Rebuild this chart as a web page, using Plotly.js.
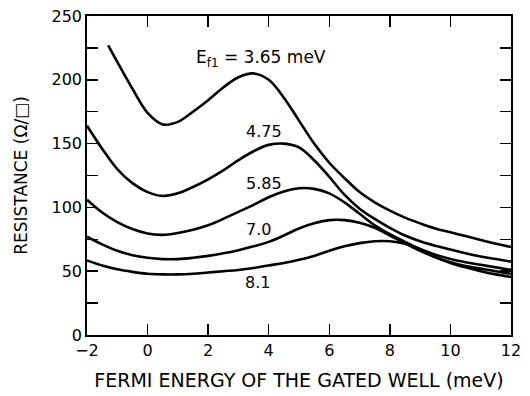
<!DOCTYPE html>
<html>
<head>
<meta charset="utf-8">
<script src="https://cdn.plot.ly/plotly-3.0.1.min.js"></script>
<style>html,body{margin:0;padding:0;background:#fff;}#chart{width:530px;height:396px;}</style>
</head>
<body>
<div id="chart"></div>
<script>
// Fermi energy of the gated well (meV)
const xGrid = [-2, -1.5, -1, -0.5, 0, 0.5, 1, 1.5, 2, 2.5, 3, 3.5, 4, 4.5, 5, 5.5, 6, 6.5, 7, 7.5, 8, 8.5, 9, 9.5, 10, 10.5, 11, 11.5, 12];

// E_f1 = 3.65 meV curve starts at x = -1.3
const x365 = [-1.3, -1, -0.5, 0, 0.5, 1, 1.5, 2, 2.5, 3, 3.5, 4, 4.5, 5, 5.5, 6, 6.5, 7, 7.5, 8, 8.5, 9, 9.5, 10, 10.5, 11, 11.5, 12];
const y365 = [227, 214, 193, 174, 165, 167, 175, 184, 194, 202, 205, 200, 186, 168, 150, 135, 123, 112, 104, 97.5, 92, 87.5, 83.5, 80.5, 77.5, 74.5, 71.5, 69];

// Resistance (ohm/square) for the other curves, on xGrid
const y475 = [164, 146, 130, 119, 112, 109, 111, 116, 122, 129, 137, 144, 149, 150, 147, 137, 124, 110, 99, 91, 84, 78, 73.5, 70, 67, 64, 61.5, 59.5, 57.5];
const y585 = [106, 96, 88.5, 83, 79.5, 78.5, 80, 82.5, 86, 91, 96.5, 102, 108, 112.5, 115, 114.5, 111, 104, 95, 86, 79, 73, 67.5, 63, 59.5, 57, 55, 53, 51];
const y70  = [77, 71, 66, 62.5, 60.5, 59.5, 59.5, 60.5, 62, 64, 66.5, 69.5, 73, 78, 83.5, 87.5, 90, 90, 88, 84, 78, 72, 66, 61, 57, 54, 52, 50, 48];
const y81  = [58.5, 54.5, 51.5, 49.5, 48, 47.5, 47.5, 48, 49, 50, 51, 52.5, 54.5, 56.5, 59, 62, 66, 69.5, 72, 73.5, 73.5, 71.5, 67, 61, 56.5, 53, 50, 47.5, 45.5];

const curveLabels = ['E<sub>f1</sub> = 3.65 meV', '4.75', '5.85', '7.0', '8.1'];
const labelX = [3.74, 3.84, 3.84, 3.66, 3.63];
const labelY = [217, 159.5, 118.7, 82.3, 41];

const xTickVals = [-2, 0, 2, 4, 6, 8, 10, 12];
const xTickText = ['\u22122', '0', '2', '4', '6', '8', '10', '12'];
const yTickVals = [0, 50, 100, 150, 200, 250];
const yTickText = ['0', '50', '100', '150', '200', '250'];

const lineStyle = {color: '#000', width: 2.6, shape: 'spline', smoothing: 1};
const series = [[x365, y365], [xGrid, y475], [xGrid, y585], [xGrid, y70], [xGrid, y81]];
const traces = series.map(s => ({x: s[0], y: s[1], mode: 'lines', line: lineStyle, hoverinfo: 'skip'}));

const fam = 'DejaVu Sans, Liberation Sans, Arial, sans-serif';
const font = {family: fam, size: 16, color: '#000'};

const annotations = curveLabels.map((t, i) => ({
  x: labelX[i], y: labelY[i], xref: 'x', yref: 'y', text: t, showarrow: false,
  xanchor: 'center', yanchor: 'middle', font: {family: fam, size: i === 0 ? 17 : 16, color: '#000'}
}));

const layout = {
  width: 530, height: 396,
  margin: {l: 87, r: 19, t: 16, b: 61},
  paper_bgcolor: '#fff', plot_bgcolor: '#fff',
  showlegend: false,
  font: font,
  xaxis: {
    range: [-2, 12], tickvals: xTickVals, ticktext: xTickText,
    ticks: 'inside', ticklen: 11, tickwidth: 1.5, tickcolor: '#000',
    showline: true, linecolor: '#000', linewidth: 1.8, mirror: 'ticks',
    showgrid: false, zeroline: false, tickfont: font,
    title: {text: 'FERMI ENERGY OF THE GATED WELL (meV)', font: {family: fam, size: 19, color: '#000'}, standoff: 15}
  },
  yaxis: {
    range: [0, 250], tickvals: yTickVals, ticktext: yTickText,
    ticks: 'inside', ticklen: 11, tickwidth: 1.5, tickcolor: '#000',
    minor: {dtick: 25, ticks: 'inside', ticklen: 11, tickwidth: 1.5, tickcolor: '#000', showgrid: false},
    showline: true, linecolor: '#000', linewidth: 1.8, mirror: 'ticks',
    showgrid: false, zeroline: false, tickfont: font,
    title: {text: 'RESISTANCE (\u03A9/\u25A1)', font: {family: fam, size: 17, color: '#000'}, standoff: 19}
  },
  annotations: annotations
};

Plotly.newPlot('chart', traces, layout, {staticPlot: true, displayModeBar: false});
</script>
</body>
</html>
